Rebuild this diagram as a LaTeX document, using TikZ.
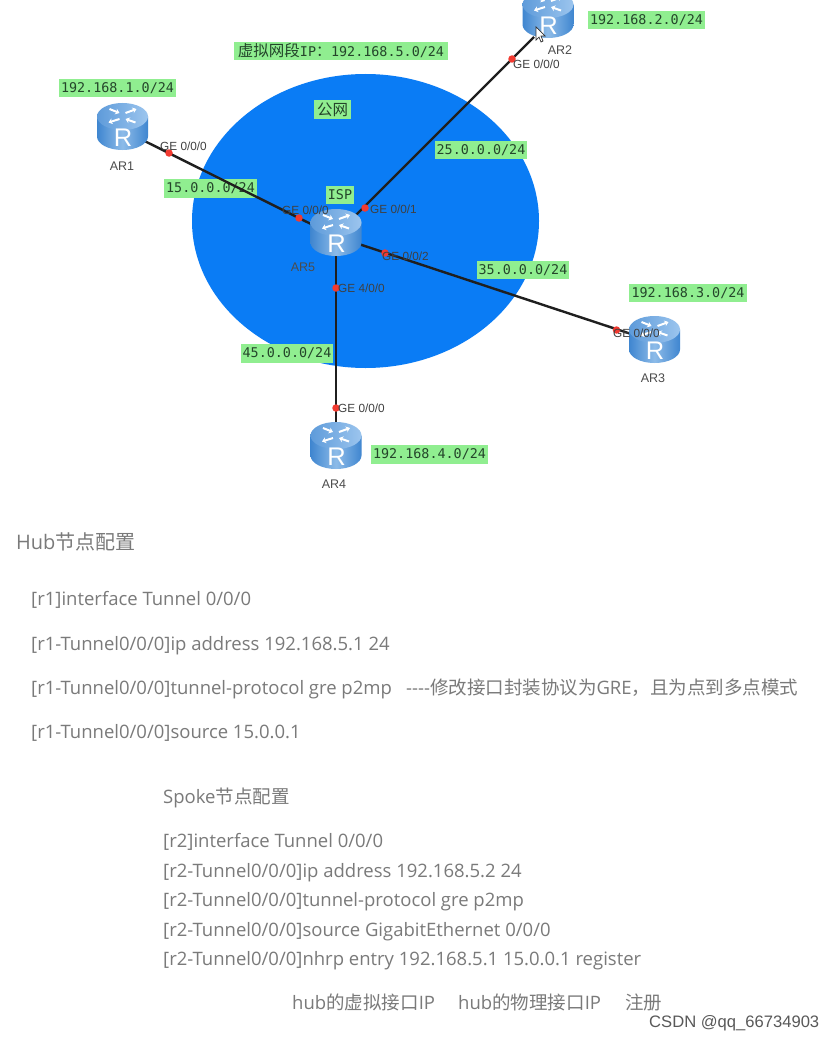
\documentclass[tikz,border=0pt]{standalone}
\usepackage{fontspec}
\setmainfont{Open Sans}
\newfontfamily\cjk{Noto Sans CJK SC}
\newfontfamily\monof{DejaVu Sans Mono}
\newfontfamily\arial{Liberation Sans}
\usetikzlibrary{arrows.meta,shapes.geometric}
\definecolor{netblue}{HTML}{0A7CF5}
\definecolor{lblgreen}{HTML}{90EE90}
\definecolor{dotred}{HTML}{F23A30}
\definecolor{bodytext}{HTML}{7A7A7A}
\definecolor{lbltext}{HTML}{24452A}
\definecolor{rside}{HTML}{3F86D0}
\definecolor{rmid}{HTML}{8DBBE8}
\definecolor{rtopa}{HTML}{5E9BDA}
\definecolor{rtopb}{HTML}{9CC5EE}
\tikzset{
  x=1pt,y=-1pt,
  glabel/.style={fill=lblgreen,inner sep=0pt,text=lbltext,minimum height=18.5pt,font=\monof\fontsize{13.4}{16}\selectfont},
  ghostrouter/.style={inner sep=0pt,minimum width=51pt,minimum height=46pt},
  wire/.style={line width=2.4pt,draw=black!88},
  portdot/.style={circle,fill=dotred,inner sep=0pt,minimum size=7.5pt},
  portlbl/.style={font=\arial\fontsize{11.8}{15}\selectfont,text=black!75,inner sep=0pt,anchor=west},
  arlbl/.style={font=\arial\fontsize{12.5}{15}\selectfont,text=black!70,inner sep=0pt},
  cfg/.style={anchor=base west,inner sep=0pt,yshift=-1pt,text=bodytext,font=\fontsize{18.5}{22}\selectfont},
  cfghead/.style={cfg,font=\fontsize{20}{24}\selectfont},
  routericon/.pic={
    \shade[left color=rside,right color=rside,middle color=rmid]
      (-25.5,-10.5) -- (-25.5,9.5) .. controls (-25.5,17) and (-14,23) .. (0,23)
      .. controls (14,23) and (25.5,17) .. (25.5,9.5) -- (25.5,-10.5) -- cycle;
    \shade[left color=rtopa,right color=rtopb] (0,-10.5) ellipse [x radius=25.5pt,y radius=13.5pt];
    \begin{scope}[white,line width=2pt,-{Stealth[length=4pt,width=6pt]}]
      \draw (-13,-18) -- (-3,-14);
      \draw (3,-14) -- (14,-18);
      \draw (13,-4.5) -- (3,-8);
      \draw (-3,-8) -- (-14,-4.5);
    \end{scope}
    \node[text=white,inner sep=0pt,font=\arial\fontsize{25.5}{26}\selectfont] at (0.5,11) {R};
  }
}
\begin{document}
\begin{tikzpicture}
\useasboundingbox (0,0) rectangle (834,1038);
\fill[white] (0,0) rectangle (834,1038);
% public network
\node[ellipse,fill=netblue,minimum width=347pt,minimum height=294pt,inner sep=0pt] (cloud) at (365.5,221) {};
% green labels under the wires
\node[glabel,minimum width=214pt] (lblvirt) at (341,51) {{\cjk\fontsize{15.5}{16}\selectfont 虚拟网段}IP{\cjk\fontsize{15}{16}\selectfont ：}192.168.5.0/24};
\node[glabel,minimum width=117pt] (lbl1) at (117.5,88) {192.168.1.0/24};
\node[glabel,minimum width=117pt] (lbl2) at (646.5,20) {192.168.2.0/24};
\node[glabel,minimum width=118pt] (lbl3) at (688,293) {192.168.3.0/24};
\node[glabel,minimum width=117pt] (lbl4) at (429.5,454.5) {192.168.4.0/24};
\node[glabel,minimum width=37pt] (lblpub) at (332.5,109.5) {{\cjk\fontsize{15.5}{16}\selectfont 公网}};
\node[glabel,minimum width=28pt] (lblisp) at (340,195) {ISP};
\node[glabel,minimum width=93pt] (lbl15) at (210.5,188.5) {15.0.0.0/24};
\node[glabel,minimum width=92pt] (lbl25) at (481,150) {25.0.0.0/24};
\node[glabel,minimum width=92pt] (lbl35) at (523,270) {35.0.0.0/24};
\node[glabel,minimum width=92pt] (lbl45) at (287,353.5) {45.0.0.0/24};
% routers (anchors for the wires)
\node[ghostrouter] (ar1) at (122.5,127) {};
\node[ghostrouter] (ar2) at (548,15) {};
\node[ghostrouter] (ar3) at (654.5,340) {};
\node[ghostrouter] (ar4) at (336,446) {};
\node[ghostrouter] (ar5) at (336,233) {};
\coordinate (ar2w) at (534,37);
\coordinate (ar5ne) at (350,221);
% wires
\draw[wire] ([yshift=-3pt]ar1.center) -- ([yshift=-3.5pt]ar5.center);
\draw[wire] (ar5ne) -- (ar2w);
\draw[wire] ([yshift=-3.5pt]ar5.center) -- ([yshift=-1.7pt]ar3.center);
\draw[wire] (ar5.center) -- (ar4.center);
% router icons
\pic at (ar1) {routericon};
\pic at (ar2) {routericon};
\pic at (ar3) {routericon};
\pic at (ar4) {routericon};
\pic at (ar5) {routericon};
% port dots
\node[portdot] (p1) at (169,153) {};
\node[portdot] (p2) at (299,218) {};
\node[portdot] (p3) at (365,208) {};
\node[portdot] (p4) at (512,59) {};
\node[portdot] (p5) at (385,253) {};
\node[portdot] (p6) at (336,288) {};
\node[portdot] (p7) at (336,408) {};
\node[portdot] (p8) at (616.5,330) {};
% port labels
\node[portlbl] (g1) at (160,146.5) {GE 0/0/0};
\node[portlbl] (g2) at (282,210) {GE 0/0/0};
\node[portlbl] (g3) at (370,209.5) {GE 0/0/1};
\node[portlbl] (g4) at (513,64) {GE 0/0/0};
\node[portlbl] (g5) at (382,256.5) {GE 0/0/2};
\node[portlbl] (g6) at (338,288) {GE 4/0/0};
\node[portlbl] (g7) at (338,408) {GE 0/0/0};
\node[portlbl] (g8) at (613,333.5) {GE 0/0/0};
% router names
\node[arlbl] (n1) at (122,166) {AR1};
\node[arlbl] (n2) at (560,50) {AR2};
\node[arlbl] (n3) at (653,378) {AR3};
\node[arlbl] (n4) at (334,484) {AR4};
\node[arlbl] (n5) at (303,267) {AR5};
% mouse cursor
\draw[fill=white,line width=.7pt,draw=black!80] (536,27) -- (536,40) -- (539,37) -- (541,42) -- (543,41) -- (541,36) -- (545,36) -- cycle;
% configuration text
\node[cfghead] (t1) at (16,548) {Hub{\cjk 节点配置}};
\node[cfg] (t2) at (31,604) {[r1]interface Tunnel 0/0/0};
\node[cfg] (t3) at (31,649) {[r1-Tunnel0/0/0]ip address 192.168.5.1 24};
\node[cfg] (t4) at (31,693) {[r1-Tunnel0/0/0]tunnel-protocol gre p2mp};
\node[cfg] (t4b) at (406,693) {-{}-{}-{}-{\cjk 修改接口封装协议为}GRE{\cjk ，且为点到多点模式}};
\node[cfg] (t5) at (31,737) {[r1-Tunnel0/0/0]source 15.0.0.1};
\node[cfg] (t6) at (163,802) {Spoke{\cjk 节点配置}};
\node[cfg] (t7) at (163,846) {[r2]interface Tunnel 0/0/0};
\node[cfg] (t8) at (163,876) {[r2-Tunnel0/0/0]ip address 192.168.5.2 24};
\node[cfg] (t9) at (163,905) {[r2-Tunnel0/0/0]tunnel-protocol gre p2mp};
\node[cfg] (t10) at (163,935) {[r2-Tunnel0/0/0]source GigabitEthernet 0/0/0};
\node[cfg] (t11) at (163,964) {[r2-Tunnel0/0/0]nhrp entry 192.168.5.1 15.0.0.1 register};
\node[cfg] (t12) at (292,1008) {hub{\cjk 的虚拟接口}IP};
\node[cfg] (t13) at (458,1008) {hub{\cjk 的物理接口}IP};
\node[cfg] (t14) at (625,1008) {{\cjk 注册}};
\node[anchor=base west,inner sep=0pt,yshift=-1pt,text=black!65,font=\arial\fontsize{16.6}{18}\selectfont] (wm) at (649,1026) {CSDN @qq\_66734903};
\end{tikzpicture}
\end{document}
